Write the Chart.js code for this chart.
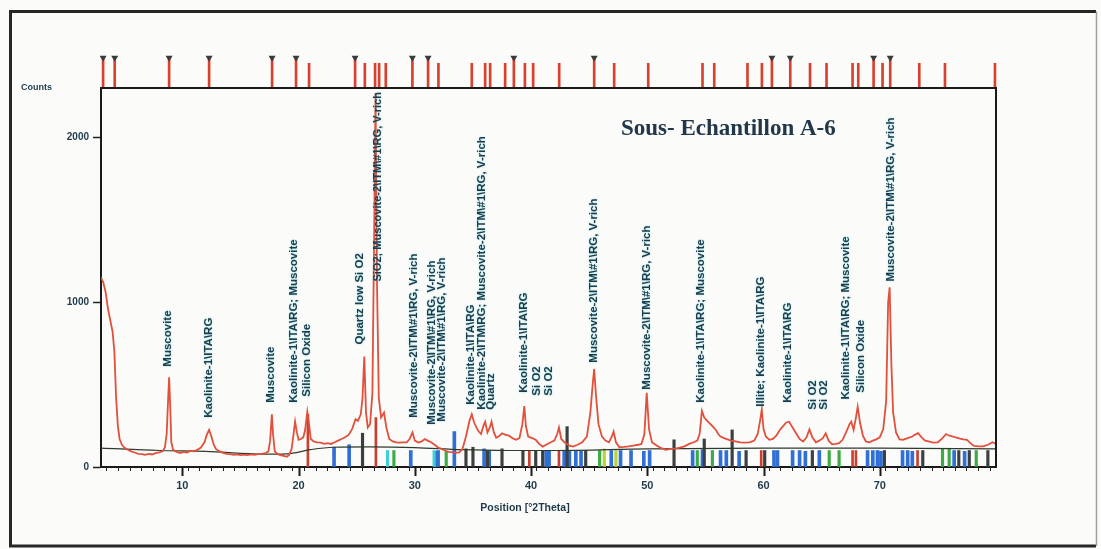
<!DOCTYPE html>
<html>
<head>
<meta charset="utf-8">
<script src="https://cdn.jsdelivr.net/npm/chart.js@4.4.1/dist/chart.umd.min.js"></script>
<style>
  html, body { margin: 0; padding: 0; background: #fbfcfa; }
  canvas { display: block; }
</style>
</head>
<body>
<canvas id="xrd" width="1101" height="549"></canvas>
<script>
// Measured scan: [position °2Theta, counts]
const scanPoints = [
  [3.0,1150],[3.2,1120],[3.4,1060],[3.6,960],[3.8,890],[4.0,820],[4.15,700],[4.3,420],[4.45,250],[4.6,170],
  [4.8,135],[5.0,118],[5.3,105],[5.6,95],[5.9,88],[6.2,80],[6.5,78],[6.8,74],[7.1,80],[7.4,76],
  [7.7,84],[8.0,88],[8.3,95],[8.5,120],[8.65,200],[8.78,420],[8.86,545],[8.95,380],[9.05,150],[9.2,105],
  [9.5,92],[9.8,85],[10.1,92],[10.4,88],[10.7,98],[11.0,95],[11.3,105],[11.6,118],[11.9,150],[12.1,195],
  [12.3,225],[12.5,185],[12.7,135],[12.9,108],[13.2,95],[13.5,86],[13.8,80],[14.1,78],[14.4,74],[14.7,76],
  [15.0,72],[15.3,75],[15.6,72],[15.9,76],[16.2,74],[16.5,78],[16.8,80],[17.1,82],[17.4,95],[17.55,160],
  [17.7,320],[17.8,200],[17.95,95],[18.2,78],[18.5,70],[18.8,66],[19.0,62],[19.2,75],[19.4,110],[19.55,190],
  [19.7,275],[19.85,210],[20.0,165],[20.2,170],[20.4,180],[20.55,220],[20.75,335],[20.9,260],[21.05,170],[21.3,155],
  [21.6,150],[21.9,148],[22.2,140],[22.5,145],[22.8,140],[23.1,150],[23.4,160],[23.7,170],[24.0,180],[24.3,195],
  [24.6,230],[24.9,290],[25.1,280],[25.35,320],[25.5,420],[25.65,670],[25.8,330],[25.95,240],[26.15,260],[26.35,450],
  [26.5,1400],[26.62,2270],[26.75,1100],[26.9,420],[27.1,300],[27.35,330],[27.55,240],[27.8,170],[28.1,155],[28.4,150],
  [28.7,148],[29.0,150],[29.3,150],[29.55,170],[29.8,210],[30.0,160],[30.3,148],[30.6,155],[30.85,170],[31.1,160],
  [31.4,150],[31.7,135],[32.0,118],[32.3,110],[32.6,100],[32.9,92],[33.2,90],[33.5,88],[33.8,87],[34.1,110],
  [34.4,185],[34.7,280],[34.9,320],[35.1,270],[35.3,240],[35.5,215],[35.7,200],[35.9,250],[36.05,275],[36.25,210],
  [36.45,240],[36.6,275],[36.8,210],[37.0,178],[37.3,190],[37.5,205],[37.8,195],[38.1,190],[38.4,175],[38.7,165],
  [39.0,175],[39.25,260],[39.42,370],[39.55,250],[39.75,185],[40.1,175],[40.4,165],[40.7,140],[41.0,124],[41.3,135],
  [41.7,150],[42.0,160],[42.25,200],[42.4,240],[42.6,170],[42.9,148],[43.3,130],[43.6,124],[44.0,135],[44.4,150],
  [44.8,185],[45.1,330],[45.3,500],[45.43,595],[45.6,420],[45.8,260],[46.1,185],[46.4,160],[46.7,150],[46.95,185],
  [47.1,215],[47.3,150],[47.6,120],[48.0,122],[48.4,125],[48.8,130],[49.2,135],[49.5,140],[49.75,200],[49.95,450],
  [50.15,230],[50.4,150],[50.8,130],[51.2,115],[51.6,105],[52.0,110],[52.4,112],[52.8,118],[53.2,125],[53.6,140],
  [54.0,150],[54.3,160],[54.5,200],[54.7,340],[54.9,300],[55.1,285],[55.3,270],[55.5,255],[55.7,240],[55.9,225],
  [56.1,200],[56.3,185],[56.6,175],[56.9,168],[57.2,160],[57.6,155],[58.0,150],[58.4,148],[58.8,150],[59.2,160],
  [59.5,200],[59.7,280],[59.85,350],[60.0,230],[60.2,185],[60.5,165],[60.8,170],[61.1,190],[61.4,225],[61.7,250],
  [61.95,270],[62.2,275],[62.5,240],[62.8,205],[63.1,170],[63.4,155],[63.7,180],[63.95,228],[64.2,180],[64.5,150],
  [64.8,160],[65.1,175],[65.35,205],[65.6,160],[65.9,138],[66.2,140],[66.5,145],[66.8,165],[67.1,210],[67.4,260],
  [67.55,275],[67.75,225],[67.95,300],[68.1,365],[68.3,270],[68.55,190],[68.8,155],[69.1,150],[69.4,160],[69.7,168],
  [70.0,180],[70.3,230],[70.55,400],[70.72,1000],[70.85,1090],[71.0,620],[71.15,330],[71.4,210],[71.7,168],[72.0,165],
  [72.4,175],[72.8,185],[73.0,195],[73.3,205],[73.6,180],[73.9,160],[74.2,155],[74.6,148],[75.0,150],[75.4,175],
  [75.7,200],[76.0,190],[76.3,185],[76.6,178],[76.9,172],[77.2,168],[77.5,165],[77.8,145],[78.1,128],[78.5,125],
  [78.9,125],[79.3,135],[79.7,150],[80.0,140]
];

// Fitted background: [position, counts]
const backgroundPoints = [
  [3,115],[8,100],[12,95],[17,78],[19,80],[21,105],[23,120],[26,122],[30,118],
  [34,105],[38,100],[42,100],[50,110],[60,115],[70,115],[80,110]
];

// Reference patterns (stick positions and relative heights, in counts)
const blueSticks = [
  [23.05,120],[24.35,135],[29.65,100],[31.8,95],[32.0,100],[33.4,215],[35.96,110],[36.4,100],[41.3,95],[41.55,100],
  [42.85,100],[43.3,95],[43.85,100],[44.3,95],[46.9,100],[47.7,100],[48.6,100],[49.7,95],[50.2,100],[53.9,100],
  [54.75,105],[56.3,100],[56.8,100],[57.9,95],[60.9,100],[61.2,100],[62.5,100],[63.1,100],[63.6,95],[64.8,100],
  [68.95,100],[69.4,100],[69.8,100],[70.1,95],[71.96,100],[72.4,100],[72.8,95],[76.4,100],[77.3,95]
];
const darkSticks = [
  [25.5,205],[34.4,110],[35.0,120],[36.25,100],[37.5,110],[39.3,100],[40.4,100],[41.0,100],[43.1,245],[44.7,100],
  [52.3,165],[54.9,170],[57.3,225],[58.5,100],[60.1,100],[64.2,100],[70.4,100],[73.7,100],[76.8,100],[77.7,100],[79.3,100]
];
const greenSticks = [
  [28.2,100],[32.7,95],[45.9,100],[54.3,100],[55.6,100],[65.65,100],[66.5,100],[75.4,110],[75.97,110],[78.3,100]
];
const cyanSticks = [[27.65,100],[31.66,100]];
const limeSticks = [[46.3,110],[47.3,100]];
const redSticks = [
  [20.8,320],[26.65,300],[39.85,100],[42.4,100],[59.8,100],[67.66,100],[67.95,100],[73.25,100]
];

// Peak list markers above the plot
const peakListPositions = [
  3.18,4.18,8.86,12.30,17.72,19.78,20.90,24.86,25.70,26.58,26.93,27.50,29.79,31.14,32.03,34.90,36.05,36.48,
  37.77,38.52,39.47,40.18,42.42,45.43,47.15,50.08,54.75,55.76,58.62,59.86,60.72,62.30,64.0,65.42,67.66,68.15,
  69.47,70.24,70.9,73.40,75.61,79.91
];
const flaggedPeaks = [3.18,4.18,8.86,12.30,17.72,19.78,24.86,29.79,31.14,38.52,45.43,60.72,62.30,69.47,70.9];

// Phase labels: [position, counts at label foot, text]
const peakLabels = [
  [8.75, 609, 'Muscovite'],
  [12.3, 299, 'Kaolinite-1\\ITA\\RG'],
  [17.6, 390, 'Muscovite'],
  [19.55, 390, 'Kaolinite-1\\ITA\\RG; Muscovite'],
  [20.75, 427, 'Silicon Oxide'],
  [25.3, 743, 'Quartz low Si O2'],
  [26.85, 1125, 'SiO2; Muscovite-2\\ITM\\#1\\RG, V-rich'],
  [29.95, 299, 'Muscovite-2\\ITM\\#1\\RG, V-rich'],
  [31.5, 256, 'Muscovite-2\\ITM\\#1\\RG, V-rich'],
  [32.35, 275, 'Muscovite-2\\ITM\\#1\\RG, V-rich'],
  [34.85, 378, 'Kaolinite-1\\ITA\\RG'],
  [35.8, 348, 'Kaolinite-2\\ITM\\RG; Muscovite-2\\ITM\\#1\\RG, V-rich'],
  [36.57, 348, 'Quartz'],
  [39.4, 451, 'Kaolinite-1\\ITA\\RG'],
  [40.5, 433, 'Si O2'],
  [41.55, 433, 'Si O2'],
  [45.43, 633, 'Muscovite-2\\ITM\\#1\\RG, V-rich'],
  [50.0, 469, 'Muscovite-2\\ITM\\#1\\RG, V-rich'],
  [54.6, 390, 'Kaolinite-1\\ITA\\RG; Muscovite'],
  [59.78, 366, 'Illite; Kaolinite-1\\ITA\\RG'],
  [62.05, 390, 'Kaolinite-1\\ITA\\RG'],
  [64.2, 348, 'Si O2'],
  [65.2, 348, 'Si O2'],
  [67.1, 409, 'Kaolinite-1\\ITA\\RG; Muscovite'],
  [68.38, 451, 'Silicon Oxide'],
  [70.96, 1125, 'Muscovite-2\\ITM\\#1\\RG, V-rich']
];

const xMajorTicks = [10, 20, 30, 40, 50, 60, 70];
const yTicks = [0, 1000, 2000];

const COUNTS_MAX = 2300;
const MARKER_TOP = 2450;
const FLAG_TOP = 2495;

const INK = '#1f3a4a';

function toXY(list) { return list.map(([x, y]) => ({ x, y })); }

function stickSet(list, color, thickness) {
  return {
    type: 'bar',
    data: toXY(list),
    backgroundColor: color,
    borderWidth: 0,
    barThickness: thickness,
    grouped: false
  };
}

const decorPlugin = {
  id: 'decor',
  beforeDraw(chart) {
    const { ctx, width, height } = chart;
    ctx.save();
    ctx.fillStyle = '#fbfcfa';
    ctx.fillRect(0, 0, width, height);
    // outer frame
    ctx.strokeStyle = '#262626';
    ctx.lineWidth = 3;
    ctx.beginPath();
    ctx.moveTo(1096, 11.5);
    ctx.lineTo(10.5, 11.5);
    ctx.lineTo(10.5, 546);
    ctx.lineTo(1096, 546);
    ctx.stroke();
    ctx.strokeStyle = '#a0a0a0';
    ctx.lineWidth = 1.5;
    ctx.beginPath();
    ctx.moveTo(1096.5, 11.5);
    ctx.lineTo(1096.5, 546);
    ctx.stroke();
    ctx.restore();
  },
  afterDatasetsDraw(chart) {
    const { ctx, chartArea, scales } = chart;
    const xs = scales.x, ys = scales.y;
    ctx.save();
    // caps on the flagged peak-list markers
    ctx.fillStyle = '#3a3a3a';
    const capY = ys.getPixelForValue(FLAG_TOP);
    for (const p of flaggedPeaks) {
      const px = xs.getPixelForValue(p);
      ctx.beginPath();
      ctx.moveTo(px - 3.5, capY);
      ctx.lineTo(px + 3.5, capY);
      ctx.lineTo(px, capY + 6);
      ctx.closePath();
      ctx.fill();
    }
    // phase labels, written bottom-to-top, kept inside the plot frame
    ctx.font = 'bold 11.5px "Liberation Sans", Arial, sans-serif';
    ctx.textAlign = 'left';
    ctx.textBaseline = 'middle';
    ctx.fillStyle = INK;
    ctx.shadowColor = 'rgba(40,190,200,0.55)';
    ctx.shadowBlur = 2;
    for (const [pos, foot, text] of peakLabels) {
      const px = xs.getPixelForValue(pos);
      const py = ys.getPixelForValue(foot);
      const room = py - chartArea.top - 4;
      ctx.save();
      ctx.translate(px, py);
      ctx.rotate(-Math.PI / 2);
      ctx.fillText(text, 0, 0, room);
      ctx.restore();
    }
    ctx.restore();
  },
  afterDraw(chart) {
    const { ctx, chartArea, scales } = chart;
    const xs = scales.x;
    ctx.save();
    // plot frame: top and right sides
    ctx.strokeStyle = '#1a1a1a';
    ctx.lineWidth = 2;
    ctx.beginPath();
    ctx.moveTo(chartArea.left, chartArea.top);
    ctx.lineTo(chartArea.right, chartArea.top);
    ctx.lineTo(chartArea.right, chartArea.bottom);
    ctx.stroke();
    // longer marks for the labelled x ticks
    ctx.lineWidth = 2;
    for (const v of xMajorTicks) {
      const px = Math.round(xs.getPixelForValue(v)) + 0.5;
      ctx.beginPath();
      ctx.moveTo(px, chartArea.bottom);
      ctx.lineTo(px, chartArea.bottom + 9);
      ctx.stroke();
    }
    // texts
    ctx.fillStyle = INK;
    ctx.textBaseline = 'middle';
    ctx.textAlign = 'left';
    ctx.font = 'bold 9px "Liberation Sans", Arial, sans-serif';
    ctx.fillText('Counts', 21, chartArea.top);
    ctx.textAlign = 'center';
    ctx.font = 'bold 10.5px "Liberation Sans", Arial, sans-serif';
    ctx.fillText('Position [°2Theta]', 525, 508);
    ctx.textAlign = 'left';
    ctx.textBaseline = 'alphabetic';
    ctx.fillStyle = '#22384a';
    ctx.font = 'bold 23px "Liberation Serif", "Times New Roman", serif';
    ctx.fillText('Sous- Echantillon A-6', 621, 135);
    ctx.restore();
  }
};

const datasets = [
  {
    type: 'line',
    data: toXY(scanPoints),
    borderColor: '#e24f3b',
    borderWidth: 1.8,
    pointRadius: 0,
    tension: 0
  },
  {
    type: 'line',
    data: toXY(backgroundPoints),
    borderColor: '#2e3a2c',
    borderWidth: 1.2,
    pointRadius: 0,
    cubicInterpolationMode: 'monotone'
  },
  stickSet(redSticks, '#c8402e', 2),
  stickSet(cyanSticks, '#3fcfd6', 2.5),
  stickSet(limeSticks, '#b9d23c', 2.5),
  stickSet(greenSticks, '#3daa45', 2.5),
  stickSet(darkSticks, '#3b3f3f', 2.5),
  stickSet(blueSticks, '#2f6fd6', 3),
  {
    type: 'bar',
    data: peakListPositions.map(p => ({
      x: p,
      y: [COUNTS_MAX, flaggedPeaks.includes(p) ? FLAG_TOP - 10 : MARKER_TOP]
    })),
    backgroundColor: '#d8402f',
    borderWidth: 0,
    barThickness: 2,
    grouped: false,
    clip: false
  }
];

new Chart(document.getElementById('xrd'), {
  type: 'line',
  data: { datasets },
  options: {
    responsive: false,
    animation: false,
    devicePixelRatio: 1,
    layout: { padding: { left: 0, top: 88, right: 105, bottom: 0 } },
    plugins: { legend: { display: false }, tooltip: { enabled: false }, title: { display: false } },
    scales: {
      x: {
        type: 'linear',
        min: 3,
        max: 80,
        offset: false,
        afterFit(scale) { scale.height = 82; },
        border: { display: true, color: '#1a1a1a', width: 2 },
        grid: {
          display: true,
          drawOnChartArea: false,
          drawTicks: true,
          tickLength: 4,
          tickColor: '#222',
          tickWidth: 1
        },
        ticks: {
          stepSize: 1,
          includeBounds: false,
          autoSkip: false,
          maxRotation: 0,
          padding: 8,
          color: INK,
          font: { family: '"Liberation Sans", Arial, sans-serif', size: 11, weight: 'bold' },
          callback: (v) => (xMajorTicks.includes(v) ? String(v) : '')
        }
      },
      y: {
        min: 0,
        max: COUNTS_MAX,
        afterFit(scale) { scale.width = 101; },
        afterBuildTicks(scale) { scale.ticks = yTicks.map(v => ({ value: v })); },
        border: { display: true, color: '#1a1a1a', width: 2 },
        grid: {
          display: true,
          drawOnChartArea: false,
          drawTicks: true,
          tickLength: 8,
          tickColor: '#222',
          tickWidth: 1.5
        },
        ticks: {
          padding: 4,
          color: INK,
          font: { family: '"Liberation Sans", Arial, sans-serif', size: 10, weight: 'bold' },
          callback: (v) => String(v)
        }
      }
    }
  },
  plugins: [decorPlugin]
});
</script>
</body>
</html>
